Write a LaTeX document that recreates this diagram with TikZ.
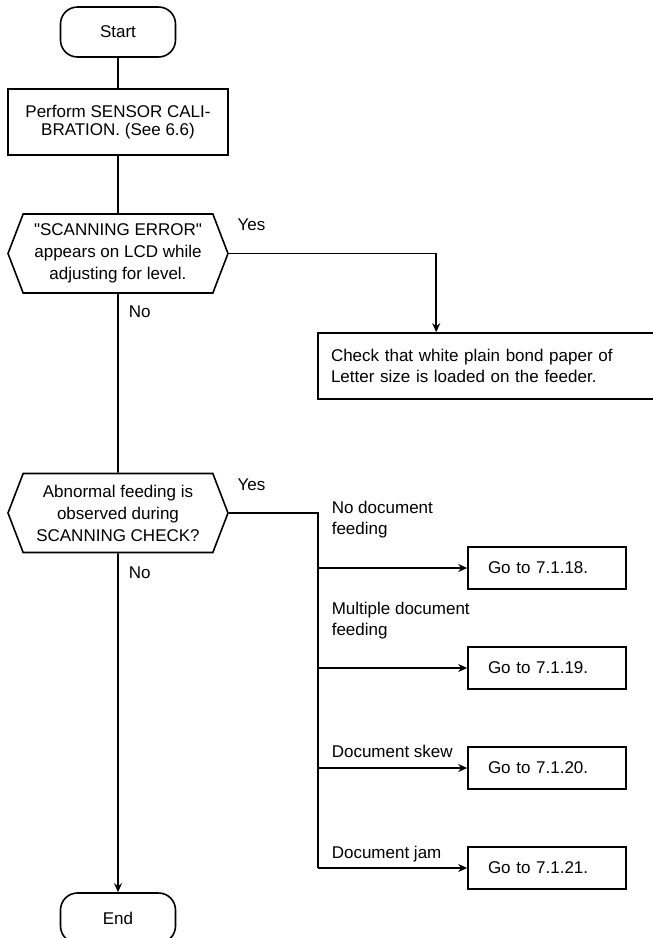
\documentclass[tikz,border=0pt]{standalone}
\usepackage{fontspec}
\setmainfont{Liberation Sans}
\usetikzlibrary{shapes.symbols, arrows.meta}

\tikzset{
  term/.style={draw, rectangle, rounded corners=17pt, minimum width=115pt, minimum height=50pt},
  procbox/.style={draw, rectangle, minimum height=66pt},
  decision/.style={draw, signal, signal to=west and east, signal pointer angle=138,
    minimum width=220pt, minimum height=79pt, inner sep=0pt, align=center,
    font=\fontsize{17}{22}\selectfont},
  gobox/.style={draw, rectangle, minimum width=158pt, minimum height=42pt, text width=118pt, align=left},
  lbl/.style={inner sep=0pt, anchor=base west},
}

\begin{document}
\begin{tikzpicture}[x=1pt, y=-1pt, >={Stealth[length=9pt, width=8pt]}, line width=1.6pt, every node/.style={font=\fontsize{17}{18}\selectfont}]
  \useasboundingbox (0,0) rectangle (653,938);

  % main column
  \node[term] (start) at (118,32) {Start};
  \node[procbox, minimum width=220pt, align=center] (calib) at (118,122) {Perform SENSOR CALI-\\BRATION. (See 6.6)};
  \node[decision] (dec1) at (118,253.5) {\textquotedbl SCANNING ERROR\textquotedbl\\appears on LCD while\\adjusting for level.};
  \node[decision] (dec2) at (118,513) {Abnormal feeding is\\observed during\\SCANNING CHECK?};
  \node[term] (end) at (118,918) {End};

  % right side boxes
  \node[procbox, minimum width=338pt, text width=312pt, align=left, font=\fontsize{17}{21}\selectfont] (chk) at (487,366)
    {Check that white plain bond paper of\\Letter size is loaded on the feeder.};
  \node[gobox] (go18) at (547,568) {Go to 7.1.18.};
  \node[gobox] (go19) at (547,668) {Go to 7.1.19.};
  \node[gobox] (go20) at (547,768) {Go to 7.1.20.};
  \node[gobox] (go21) at (547,868) {Go to 7.1.21.};

  % connectors
  \draw (start) -- (calib);
  \draw (calib) -- (dec1);
  \draw (dec1) -- (dec2);
  \draw[->] (dec2) -- (end);
  \draw[->] (dec1.east) -| ([xshift=119pt]chk.north west);

  \coordinate (fork) at (318,513);
  \draw (dec2.east) -- (fork) -- (fork |- go21.west);
  \foreach \g in {go18,go19,go20,go21}
    \draw[->] (fork |- \g.west) -- (\g.west);

  % Yes / No
  \node[lbl] (yes1) at ([xshift=8pt, yshift=23pt]dec1.east) {Yes};
  \node[lbl] (no1) at ([xshift=10pt, yshift=-24pt]dec1.south) {No};
  \node[lbl] (yes2) at ([xshift=8pt, yshift=23pt]dec2.east) {Yes};
  \node[lbl] (no2) at ([xshift=10pt, yshift=-25pt]dec2.south) {No};

  % branch labels
  \node[lbl, align=left, font=\fontsize{17}{21}\selectfont] (lab18) at ([xshift=13pt, yshift=34pt]fork |- go18.west) {No document\\feeding};
  \node[lbl, align=left, font=\fontsize{17}{21}\selectfont] (lab19) at ([xshift=13pt, yshift=33pt]fork |- go19.west) {Multiple document\\feeding};
  \node[lbl] (lab20) at ([xshift=13pt, yshift=11pt]fork |- go20.west) {Document skew};
  \node[lbl] (lab21) at ([xshift=13pt, yshift=10pt]fork |- go21.west) {Document jam};
\end{tikzpicture}
\end{document}
